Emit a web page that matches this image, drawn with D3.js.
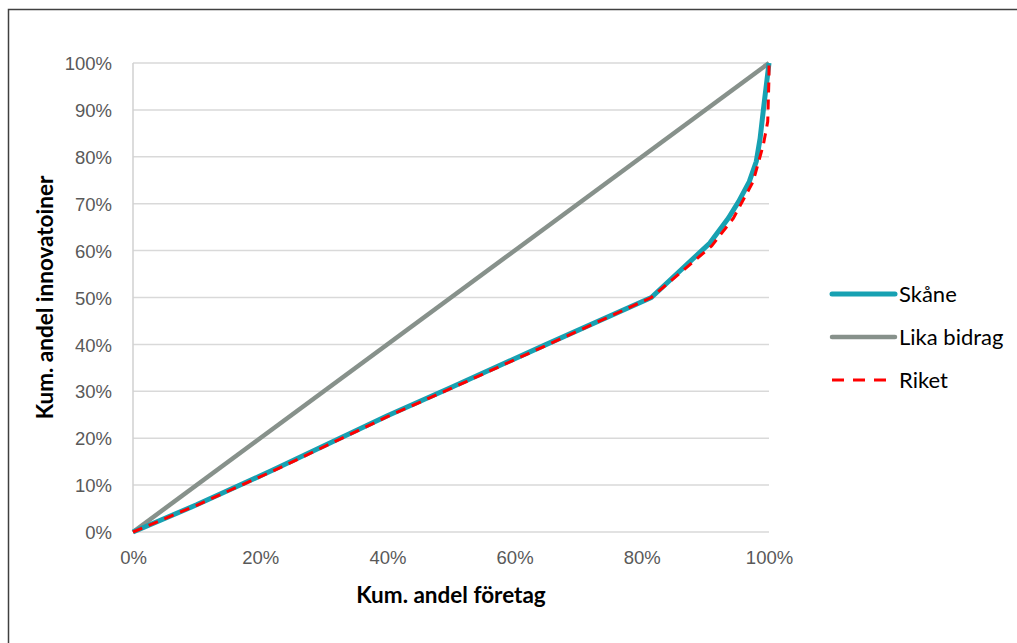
<!DOCTYPE html>
<html>
<head>
<meta charset="utf-8">
<script src="https://cdn.jsdelivr.net/npm/d3@7"></script>
<style>
  html, body { margin: 0; padding: 0; background: #fff; }
  svg { display: block; font-family: Lato, "Open Sans", sans-serif; }
  .tick text { fill: #595959; font-size: 18.5px; }
  .grid line { stroke: #d9d9d9; stroke-width: 1.5; }
  .axis-title { font-weight: bold; font-size: 22.5px; fill: #000; }
  .legend text { font-size: 22px; fill: #000; }
</style>
</head>
<body>
<svg id="chart" width="1017" height="643"></svg>
<script>
// ── Data ───────────────────────────────────────────────────────────────────

const yTicks = [0, .1, .2, .3, .4, .5, .6, .7, .8, .9, 1];
const xTicks = [0, .2, .4, .6, .8, 1];

const skaneX = [0, .10, .22, .40, .50, .65, .815, .907, .936, .952, .969, .980, .986, .992, 1];
const skaneY = [0, .058, .132, .248, .308, .40, .50, .616, .669, .704, .747, .790, .839, .910, 1];

const likaX = [0, 1];
const likaY = [0, 1];

const riketX = [0, .10, .22, .40, .50, .65, .815, .91, .944, .975, .991, .998, 1, 1];
const riketY = [0, .057, .130, .246, .306, .398, .50, .61, .669, .747, .825, .875, .97, 1];

const seriesNames = ['Skåne', 'Lika bidrag', 'Riket'];

// ── Layout ─────────────────────────────────────────────────────────────────

const svg = d3.select('#chart');
const plot = { left: 133, right: 769, top: 63, bottom: 532 };

const x = d3.scaleLinear().domain([0, 1]).range([plot.left, plot.right]);
const y = d3.scaleLinear().domain([0, 1]).range([plot.bottom, plot.top]);
const pct = d3.format('.0%');

// outer frame (left + top edges visible)
svg.append('path')
  .attr('d', 'M8.5,643 L8.5,9.5 L1017,9.5')
  .attr('fill', 'none')
  .attr('stroke', '#404040')
  .attr('stroke-width', 1.5);

// ── Grid + axes ────────────────────────────────────────────────────────────

svg.append('g').attr('class', 'grid')
  .selectAll('line')
  .data(yTicks)
  .join('line')
  .attr('x1', plot.left).attr('x2', plot.right)
  .attr('y1', d => y(d)).attr('y2', d => y(d))
  .attr('stroke', d => d === 0 ? '#bfbfbf' : '#d9d9d9');

// vertical axis line
svg.append('line')
  .attr('x1', plot.left).attr('x2', plot.left)
  .attr('y1', plot.top).attr('y2', plot.bottom)
  .attr('stroke', '#d0d0d0').attr('stroke-width', 1.5);

const yAxis = svg.append('g')
  .attr('transform', `translate(${plot.left - 21},0)`)
  .call(d3.axisLeft(y).tickValues(yTicks).tickFormat(pct).tickSize(0).tickPadding(0));
yAxis.select('.domain').remove();
yAxis.selectAll('text').attr('dy', '0.36em');

const xAxis = svg.append('g')
  .attr('transform', `translate(0,${plot.bottom + 19})`)
  .call(d3.axisBottom(x).tickValues(xTicks).tickFormat(pct).tickSize(0).tickPadding(0));
xAxis.select('.domain').remove();
xAxis.selectAll('text').attr('dy', '0.71em');

svg.append('text').attr('class', 'axis-title')
  .attr('x', 451).attr('y', 603)
  .attr('text-anchor', 'middle')
  .text('Kum. andel företag');

svg.append('text').attr('class', 'axis-title')
  .attr('transform', `translate(53,${(plot.top + plot.bottom) / 2}) rotate(-90)`)
  .attr('text-anchor', 'middle')
  .text('Kum. andel innovatoiner');

// ── Lines ──────────────────────────────────────────────────────────────────

const line = d3.line().x(d => x(d[0])).y(d => y(d[1]));
const zip = (xs, ys) => xs.map((v, i) => [v, ys[i]]);

const styles = [
  { color: '#17a1b2', width: 5,   dash: null },
  { color: '#87918b', width: 4.5, dash: null },
  { color: '#ff0000', width: 3,   dash: '10,7' }
];

const seriesData = [zip(skaneX, skaneY), zip(likaX, likaY), zip(riketX, riketY)];

// draw Lika bidrag first, then Skåne, then Riket on top
[1, 0, 2].forEach(i => {
  svg.append('path')
    .datum(seriesData[i])
    .attr('d', line)
    .attr('fill', 'none')
    .attr('stroke', styles[i].color)
    .attr('stroke-width', styles[i].width)
    .attr('stroke-dasharray', styles[i].dash)
    .attr('stroke-linejoin', 'round');
});

// ── Legend ─────────────────────────────────────────────────────────────────

const legend = svg.append('g').attr('class', 'legend')
  .selectAll('g')
  .data(seriesNames)
  .join('g')
  .attr('transform', (d, i) => `translate(832,${294 + i * 43})`);

legend.append('line')
  .attr('x1', 0).attr('x2', 63)
  .attr('stroke', (d, i) => styles[i].color)
  .attr('stroke-width', (d, i) => styles[i].width)
  .attr('stroke-dasharray', (d, i) => styles[i].dash ? '12,9' : null)
  .attr('stroke-linecap', (d, i) => styles[i].dash ? 'butt' : 'round');

legend.append('text')
  .attr('x', 67).attr('dy', '0.36em')
  .text(d => d);
</script>
</body>
</html>
